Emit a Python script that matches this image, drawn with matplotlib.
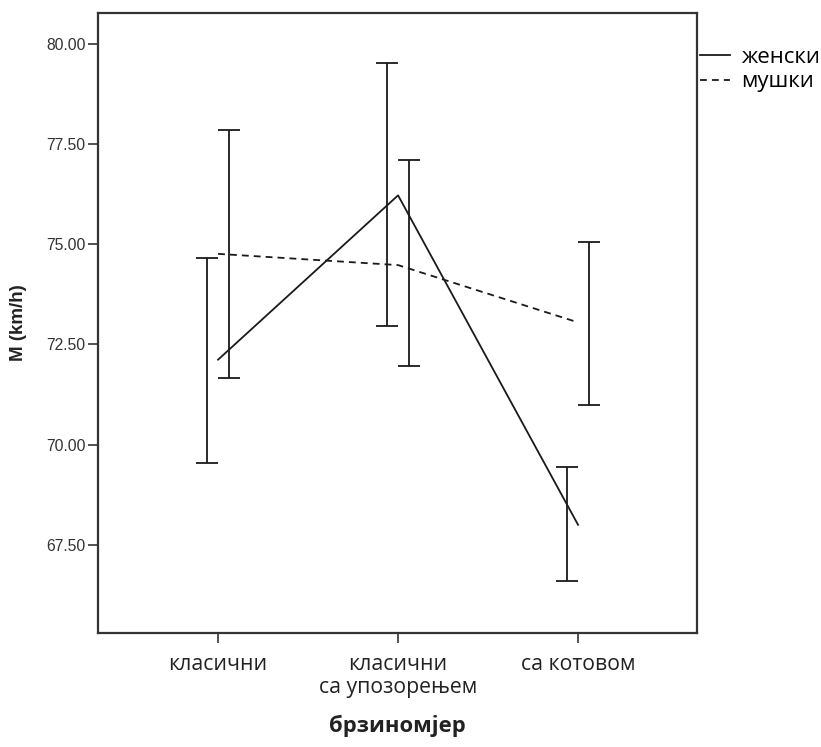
import numpy as np
import matplotlib
matplotlib.use('Agg')
import matplotlib.pyplot as plt

# Data
categories = ['класични', 'класични\nса упозорењем', 'са котовом']
series = ['женски', 'мушки']
women_mean = [72.12, 76.22, 68.00]
women_lo = [69.55, 72.96, 66.60]
women_hi = [74.66, 79.53, 69.45]
men_mean = [74.76, 74.48, 73.05]
men_lo = [71.67, 71.96, 71.00]
men_hi = [77.85, 77.11, 75.05]
yticks = [67.5, 70.0, 72.5, 75.0, 77.5, 80.0]

x = np.arange(len(categories))
off = 0.061

fig = plt.figure(figsize=(8.21, 7.47), dpi=100)
ax = fig.add_axes([0.1194, 0.1526, 0.7296, 0.830])

# Means
ax.plot(x, women_mean, color='#1a1a1a', lw=1.3, label=series[0])
ax.plot(x, men_mean, color='#1a1a1a', lw=1.3, dashes=(3.8, 2.8), label=series[1])

# Error bars (offset like SPSS clustered bars)
wm = np.array(women_mean)
mm = np.array(men_mean)
ax.errorbar(x - off, wm, yerr=[wm - np.array(women_lo), np.array(women_hi) - wm],
            fmt='none', ecolor='#1a1a1a', elinewidth=1.3, capsize=8, capthick=1.3)
ax.errorbar(x + off, mm, yerr=[mm - np.array(men_lo), np.array(men_hi) - mm],
            fmt='none', ecolor='#1a1a1a', elinewidth=1.3, capsize=8, capthick=1.3)

ax.set_xlim(-0.667, 2.661)
ax.set_ylim(65.30, 80.77)
ax.set_yticks(yticks)
ax.set_yticklabels([f'{v:.2f}' for v in yticks], family='Liberation Sans',
                   fontsize=11.3, color='#333333')
ax.set_xticks(x)
ax.set_xticklabels(categories, family='Open Sans', fontsize=15.3, color='#222222',
                   linespacing=1.15)
ax.tick_params(axis='both', direction='out', length=7, width=1.2, color='#333333')
ax.tick_params(axis='x', pad=8)
ax.tick_params(axis='y', pad=2)
for s in ax.spines.values():
    s.set_linewidth(1.6)
    s.set_color('#333333')

ax.set_ylabel('M (km/h)', family='Liberation Sans', fontweight='bold',
              fontsize=13.5, color='#222222', labelpad=14)
ax.set_xlabel('брзиномјер', family='Open Sans', fontweight='bold',
              fontsize=15.8, color='#222222', labelpad=12)

ax.legend(loc='upper left', bbox_to_anchor=(700 / 821, 1 - 47 / 747),
          bbox_transform=fig.transFigure, frameon=False,
          handlelength=1.35, handletextpad=0.5, borderpad=0, borderaxespad=0,
          labelspacing=0.15, prop={'family': 'Open Sans', 'size': 16})

fig.savefig('out.png', dpi=100, facecolor='white')
